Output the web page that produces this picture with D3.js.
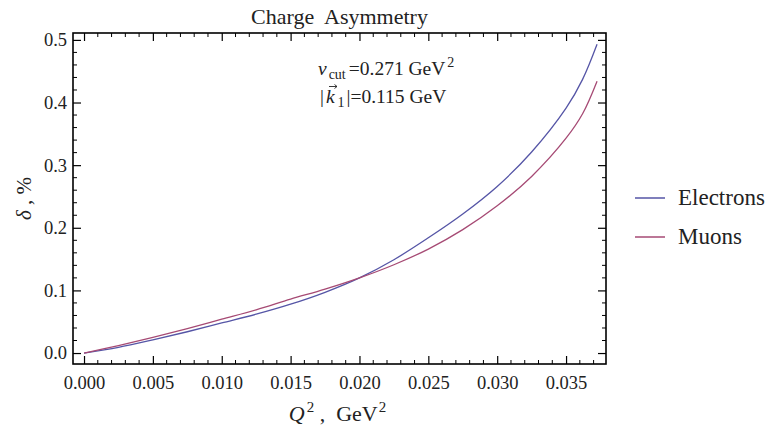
<!DOCTYPE html>
<html>
<head>
<meta charset="utf-8">
<script src="https://cdn.jsdelivr.net/npm/d3@7"></script>
<style>
  body { margin: 0; background: #fff; }
  svg text { font-family: "Liberation Serif", "DejaVu Serif", serif; fill: #222; }
</style>
</head>
<body>
<div class="chart"></div>
<script>
// Q^2 values (GeV^2)
var q2 = [0, 0.0025, 0.005, 0.0075, 0.010, 0.0125, 0.015, 0.0175, 0.020, 0.0225, 0.025, 0.0275, 0.030, 0.0325, 0.035, 0.0362, 0.03725];
// charge asymmetry delta, %
var electrons = [0, 0.009, 0.021, 0.034, 0.048, 0.062, 0.078, 0.097, 0.120, 0.149, 0.184, 0.222, 0.266, 0.321, 0.391, 0.437, 0.493];
var muons     = [0, 0.012, 0.025, 0.039, 0.054, 0.069, 0.086, 0.102, 0.120, 0.141, 0.166, 0.197, 0.235, 0.282, 0.343, 0.382, 0.434];

var seriesNames = ["Electrons", "Muons"];
var seriesColors = ["#5555a6", "#a64a74"];

var xTicks = [0, 0.005, 0.010, 0.015, 0.020, 0.025, 0.030, 0.035];
var yTicks = [0, 0.1, 0.2, 0.3, 0.4, 0.5];

var chart_width = 773, chart_height = 433;
var pLeft = 73, pRight = 606, pTop = 33, pBottom = 364;

var svg = d3.select('.chart').append('svg')
  .attr('width', chart_width)
  .attr('height', chart_height);

var x = d3.scaleLinear().domain([-0.0008, 0.0379]).range([pLeft, pRight]);
var y = d3.scaleLinear().domain([-0.0175, 0.511]).range([pBottom, pTop]);

// minor tick positions
var xMinor = d3.range(0, 0.0376, 0.001).filter(function (d) { return Math.abs(Math.round(d * 200) - d * 200) > 1e-6; });
var yMinor = d3.range(0, 0.51, 0.02).filter(function (d) { return Math.abs(Math.round(d * 10) - d * 10) > 1e-6; });

function minorTicks(g, vals, scale, orient) {
  g.selectAll('line.minor-' + orient)
    .data(vals)
    .enter().append('line')
    .attr('class', 'minor-' + orient)
    .attr('stroke', '#000')
    .attr('stroke-width', 1)
    .each(function (d) {
      var s = d3.select(this), v = scale(d);
      if (orient === 'bottom') s.attr('x1', v).attr('x2', v).attr('y1', pBottom).attr('y2', pBottom - 4);
      if (orient === 'top') s.attr('x1', v).attr('x2', v).attr('y1', pTop).attr('y2', pTop + 4);
      if (orient === 'left') s.attr('y1', v).attr('y2', v).attr('x1', pLeft).attr('x2', pLeft + 4);
      if (orient === 'right') s.attr('y1', v).attr('y2', v).attr('x1', pRight).attr('x2', pRight - 4);
    });
}

var axes = svg.append('g');

// bottom axis with labels
var gx = axes.append('g')
  .attr('transform', 'translate(0,' + pBottom + ')')
  .call(d3.axisBottom(x).tickValues(xTicks).tickSize(-8).tickPadding(12).tickFormat(d3.format('.3f')));
gx.select('.domain').remove();
gx.selectAll('.tick line').attr('stroke', '#000').attr('stroke-width', 1.2);
gx.selectAll('text').attr('font-size', 18.5).attr('fill', '#2a2a3a').attr('font-family', '"Liberation Serif", serif');

// top axis, no labels
var gxt = axes.append('g')
  .attr('transform', 'translate(0,' + pTop + ')')
  .call(d3.axisTop(x).tickValues(xTicks).tickSize(-8).tickFormat(''));
gxt.select('.domain').remove();
gxt.selectAll('.tick line').attr('stroke', '#000').attr('stroke-width', 1.2);

// left axis with labels
var gy = axes.append('g')
  .attr('transform', 'translate(' + pLeft + ',0)')
  .call(d3.axisLeft(y).tickValues(yTicks).tickSize(-8).tickPadding(6).tickFormat(d3.format('.1f')));
gy.select('.domain').remove();
gy.selectAll('.tick line').attr('stroke', '#000').attr('stroke-width', 1.2);
gy.selectAll('text').attr('font-size', 18.5).attr('fill', '#2a2a3a').attr('font-family', '"Liberation Serif", serif');

// right axis, no labels
var gyr = axes.append('g')
  .attr('transform', 'translate(' + pRight + ',0)')
  .call(d3.axisRight(y).tickValues(yTicks).tickSize(-8).tickFormat(''));
gyr.select('.domain').remove();
gyr.selectAll('.tick line').attr('stroke', '#000').attr('stroke-width', 1.2);

minorTicks(axes, xMinor, x, 'bottom');
minorTicks(axes, xMinor, x, 'top');
minorTicks(axes, yMinor, y, 'left');
minorTicks(axes, yMinor, y, 'right');

// frame
svg.append('rect')
  .attr('x', pLeft).attr('y', pTop)
  .attr('width', pRight - pLeft).attr('height', pBottom - pTop)
  .attr('fill', 'none')
  .attr('stroke', '#000')
  .attr('stroke-width', 1.6);

// curves
var line = d3.line()
  .x(function (d) { return x(d[0]); })
  .y(function (d) { return y(d[1]); })
  .curve(d3.curveCatmullRom.alpha(0.5));

[electrons, muons].forEach(function (vals, i) {
  svg.append('path')
    .datum(q2.map(function (q, j) { return [q, vals[j]]; }))
    .attr('d', line)
    .attr('fill', 'none')
    .attr('stroke', seriesColors[i])
    .attr('stroke-width', 1.3);
});

// title
svg.append('text')
  .attr('x', (pLeft + pRight) / 2)
  .attr('y', 24)
  .attr('text-anchor', 'middle')
  .attr('font-size', 22)
  .attr('xml:space', 'preserve')
  .text('Charge  Asymmetry');

// annotation
var ann1 = svg.append('text').attr('x', 318).attr('y', 75).attr('font-size', 19.5);
ann1.append('tspan').attr('font-style', 'italic').text('ν');
ann1.append('tspan').attr('font-size', 14).attr('dy', 4).attr('dx', 2).text('cut');
ann1.append('tspan').attr('dy', -4).attr('dx', 3).text('=0.271 GeV');
ann1.append('tspan').attr('font-size', 14).attr('dy', -8).attr('dx', 2).text('2');

var ann2 = svg.append('text').attr('x', 320).attr('y', 103).attr('font-size', 19.5);
ann2.append('tspan').text('|');
ann2.append('tspan').attr('font-style', 'italic').attr('dx', 2).text('k');
ann2.append('tspan').attr('font-size', 14).attr('dy', 4).attr('dx', 3).text('1');
ann2.append('tspan').attr('dy', -4).attr('dx', 2).text('|=0.115 GeV');
// small vector arrow over k
svg.append('path')
  .attr('d', 'M329,86.5 L337,86.5 M334.5,84.5 L337,86.5 L334.5,88.5')
  .attr('fill', 'none')
  .attr('stroke', '#222')
  .attr('stroke-width', 0.9);

// axis labels
var xl = svg.append('text')
  .attr('x', (pLeft + pRight) / 2 - 2)
  .attr('y', 421)
  .attr('text-anchor', 'middle')
  .attr('font-size', 22);
xl.append('tspan').attr('font-style', 'italic').text('Q');
xl.append('tspan').attr('font-size', 15).attr('dy', -9).attr('dx', 2).text('2');
xl.append('tspan').attr('dy', 9).attr('xml:space', 'preserve').text(' ,  GeV');
xl.append('tspan').attr('font-size', 15).attr('dy', -9).attr('dx', 1).text('2');

var yl = svg.append('text')
  .attr('transform', 'translate(31,' + ((pTop + pBottom) / 2) + ') rotate(-90)')
  .attr('text-anchor', 'middle')
  .attr('font-size', 21);
yl.append('tspan').attr('font-style', 'italic').text('δ');
yl.append('tspan').attr('xml:space', 'preserve').text(' , %');

// legend
var legend = svg.append('g');
seriesNames.forEach(function (name, i) {
  var ly = 198 + i * 39;
  legend.append('line')
    .attr('x1', 635).attr('x2', 665)
    .attr('y1', ly).attr('y2', ly)
    .attr('stroke', seriesColors[i])
    .attr('stroke-width', 1.5);
  legend.append('text')
    .attr('x', 678).attr('y', ly + 7)
    .attr('font-size', 23)
    .text(name);
});
</script>
</body>
</html>
